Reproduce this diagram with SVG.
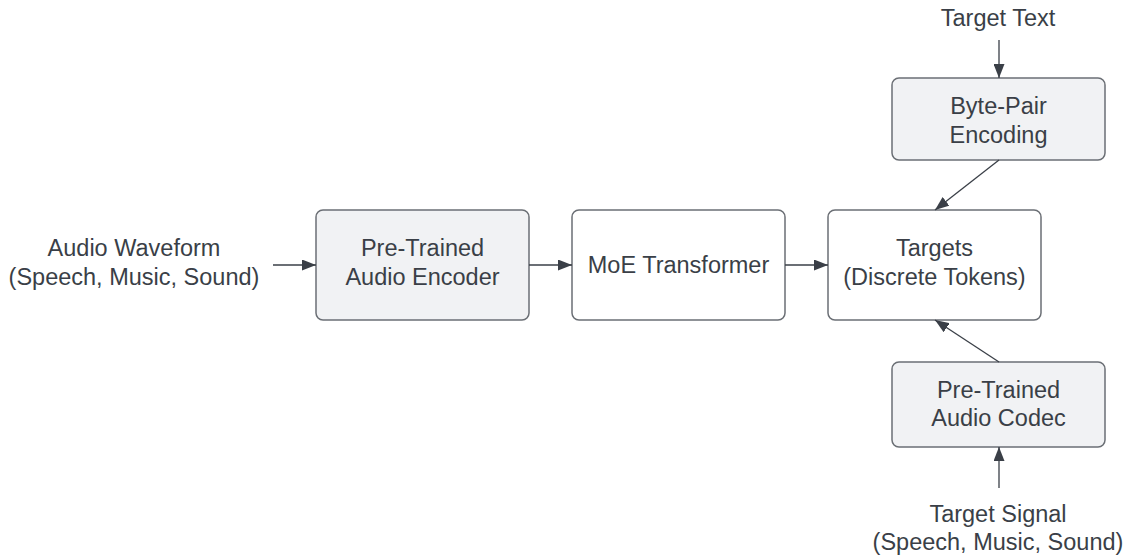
<svg xmlns="http://www.w3.org/2000/svg" width="1129" height="555" viewBox="0 0 1129 555">
  <style>
    .box { stroke: #6b6f75; stroke-width: 1.5; }
    .grey { fill: #f1f2f4; }
    .white { fill: #ffffff; }
    .lbl { font-family: "Liberation Sans", Arial, sans-serif; font-size: 23.5px; fill: #3a3f47; text-anchor: middle; }
    .edge { stroke: #3a3f47; stroke-width: 1.3; fill: none; marker-end: url(#arrow); }
  </style>
  <defs>
    <marker id="arrow" viewBox="0 0 14 11" refX="14" refY="5.5" markerWidth="14" markerHeight="11" markerUnits="userSpaceOnUse" orient="auto">
      <path d="M0,0 L14,5.5 L0,11 Z" fill="#3a3f47"/>
    </marker>
  </defs>
  <rect width="1129" height="555" fill="#ffffff"/>

  <g id="audio-waveform">
    <text class="lbl" x="134" y="256">Audio Waveform</text>
    <text class="lbl" x="134" y="285">(Speech, Music, Sound)</text>
  </g>

  <g id="audio-encoder">
    <rect class="box grey" x="316" y="210" width="213" height="110" rx="7"/>
    <text class="lbl" x="422.5" y="256">Pre-Trained</text>
    <text class="lbl" x="422.5" y="285">Audio Encoder</text>
  </g>

  <g id="moe-transformer">
    <rect class="box white" x="572" y="210" width="213" height="110" rx="7"/>
    <text class="lbl" x="678.5" y="273">MoE Transformer</text>
  </g>

  <g id="targets">
    <rect class="box white" x="828" y="210" width="213" height="110" rx="7"/>
    <text class="lbl" x="934.5" y="256">Targets</text>
    <text class="lbl" x="934.5" y="285">(Discrete Tokens)</text>
  </g>

  <g id="target-text">
    <text class="lbl" x="998" y="26">Target Text</text>
  </g>

  <g id="byte-pair">
    <rect class="box grey" x="892" y="78" width="213" height="82" rx="7"/>
    <text class="lbl" x="998.5" y="114">Byte-Pair</text>
    <text class="lbl" x="998.5" y="143">Encoding</text>
  </g>

  <g id="audio-codec">
    <rect class="box grey" x="892" y="362" width="213" height="85" rx="7"/>
    <text class="lbl" x="998.5" y="398">Pre-Trained</text>
    <text class="lbl" x="998.5" y="426">Audio Codec</text>
  </g>

  <g id="target-signal">
    <text class="lbl" x="998" y="522">Target Signal</text>
    <text class="lbl" x="998" y="550">(Speech, Music, Sound)</text>
  </g>

  <g id="connectors">
    <line class="edge" x1="273" y1="265" x2="316" y2="265"/>
    <line class="edge" x1="529" y1="265" x2="572" y2="265"/>
    <line class="edge" x1="785" y1="265" x2="828" y2="265"/>
    <line class="edge" x1="999" y1="40" x2="999" y2="78"/>
    <line class="edge" x1="999" y1="160" x2="935" y2="210"/>
    <line class="edge" x1="999" y1="362" x2="935" y2="320"/>
    <line class="edge" x1="999" y1="488" x2="999" y2="447"/>
  </g>
</svg>
